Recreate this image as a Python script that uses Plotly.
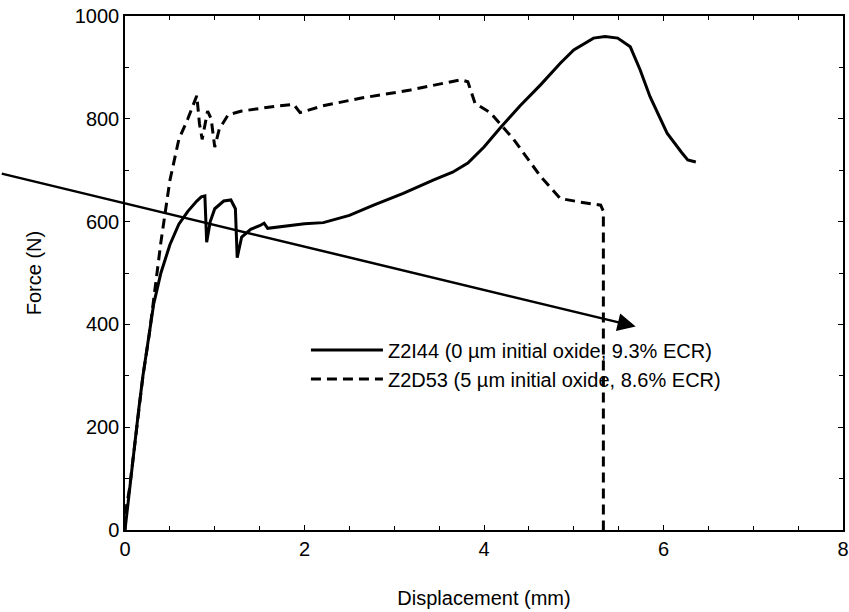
import plotly.graph_objects as go

# Z2I44 (0 um initial oxide, 9.3% ECR) - solid
x_z2i44 = [0.0, 0.05, 0.10, 0.15, 0.20, 0.27, 0.32, 0.40, 0.50, 0.60, 0.70, 0.80, 0.85, 0.89, 0.91, 0.95,
           1.00, 1.10, 1.18, 1.23, 1.25, 1.30, 1.40, 1.50, 1.55, 1.59, 1.80, 2.00, 2.21, 2.50, 2.77, 3.10,
           3.44, 3.65, 3.82, 4.00, 4.18, 4.40, 4.63, 4.85, 5.00, 5.22, 5.35, 5.49, 5.63, 5.74, 5.85,
           6.04, 6.20, 6.27, 6.36]
y_z2i44 = [0, 80, 150, 230, 300, 380, 440, 500, 555, 595, 620, 640, 648, 650, 560, 600,
           625, 640, 642, 625, 530, 570, 585, 592, 597, 587, 592, 596, 598, 612, 632, 655,
           681, 696, 714, 745, 782, 825, 866, 908, 934, 957, 960, 957, 940, 895, 843,
           772, 735, 720, 716]

# Z2D53 (5 um initial oxide, 8.6% ECR) - dashed
x_z2d53 = [0.0, 0.0, 0.05, 0.10, 0.15, 0.20, 0.27, 0.32, 0.40, 0.50, 0.60, 0.70, 0.80, 0.83, 0.86,
           0.92, 0.96, 1.00, 1.05, 1.15, 1.30, 1.50, 1.70, 1.88, 1.95, 2.20, 2.62, 3.18, 3.74, 3.82,
           3.90, 4.07, 4.33, 4.63, 4.85, 5.07, 5.30, 5.33, 5.33]
y_z2d53 = [0, 30, 80, 150, 230, 300, 380, 450, 560, 680, 760, 800, 845, 790, 760,
           815, 800, 745, 780, 808, 815, 820, 825, 828, 812, 825, 840, 856, 876, 872,
           830, 812, 760, 688, 645, 638, 632, 620, 0]

name_a = "Z2I44 (0 \u00b5m initial oxide, 9.3% ECR)"
name_b = "Z2D53 (5 \u00b5m initial oxide, 8.6% ECR)"

x_ticks = [0, 2, 4, 6, 8]
y_ticks = [0, 200, 400, 600, 800, 1000]

# arrow (data coordinates)
arrow_tail = (-1.39, 694)
arrow_tip = (5.69, 396)

FONT = "Liberation Sans, Arial, sans-serif"

fig = go.Figure()
fig.add_trace(go.Scatter(x=x_z2i44, y=y_z2i44, mode="lines", name=name_a,
                         line=dict(color="black", width=3)))
fig.add_trace(go.Scatter(x=x_z2d53, y=y_z2d53, mode="lines", name=name_b,
                         line=dict(color="black", width=3, dash="10px,6px")))

fig.add_annotation(x=arrow_tip[0], y=arrow_tip[1], ax=arrow_tail[0], ay=arrow_tail[1],
                   xref="x", yref="y", axref="x", ayref="y", text="", showarrow=True,
                   arrowhead=2, arrowsize=1.45, arrowwidth=2.5, arrowcolor="black")

axis_common = dict(showgrid=False, zeroline=False, showline=True, linecolor="black", linewidth=1.5,
                   mirror="ticks", ticks="inside", ticklen=5, tickwidth=1.2, tickcolor="black",
                   automargin=False, ticklabeloverflow="allow",
                   tickfont=dict(family=FONT, size=20, color="black"))

fig.update_xaxes(range=[0, 8], tickvals=x_ticks, **axis_common,
                 minor=dict(dtick=0.5, ticks="inside", ticklen=4, tickcolor="black", tickwidth=1.2),
                 title=dict(text="Displacement (mm)", font=dict(family=FONT, size=20, color="black"),
                            standoff=32))
fig.update_yaxes(range=[0, 1000], tickvals=y_ticks, **axis_common,
                 minor=dict(dtick=100, ticks="inside", ticklen=4, tickcolor="black", tickwidth=1.2),
                 title=dict(text="Force (N)", font=dict(family=FONT, size=20, color="black"),
                            standoff=28))

fig.update_layout(
    width=849, height=612,
    margin=dict(l=125, r=6, t=16, b=82),
    paper_bgcolor="white", plot_bgcolor="white",
    showlegend=True,
    legend=dict(x=0.252, y=0.388, xanchor="left", yanchor="top", bgcolor="rgba(0,0,0,0)",
                font=dict(family=FONT, size=20, color="black"), traceorder="normal",
                tracegroupgap=0, itemwidth=72),
)

# remove the default page margin so the figure fills the window exactly
fig.write_html("out.html", config={"displayModeBar": False},
               post_script="document.body.style.margin='0';")
